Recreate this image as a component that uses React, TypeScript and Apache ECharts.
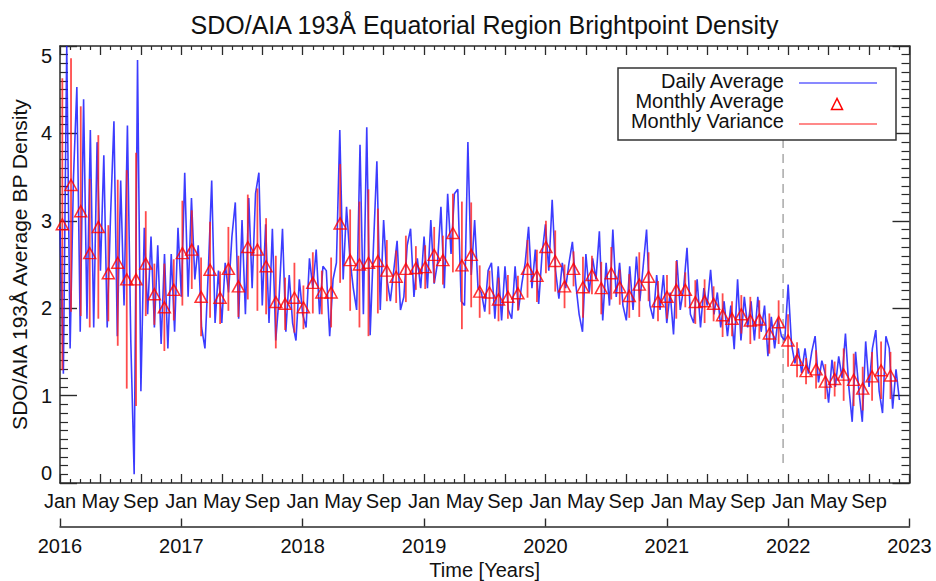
import React, { useEffect, useRef } from "react";
import * as echarts from "echarts";

// ---------------- data ----------------
// Daily average BP density, sampled every 1/3 month starting Jan 2016
const DAILY_STEP_MONTHS = 1 / 3;
const DAILY_VALUES = [
  2.93, 1.25, 5.0, 1.54, 3.5, 4.53, 1.73, 4.39, 1.88, 4.04,
  1.78, 3.9, 2.43, 3.75, 1.78, 3.06, 4.14, 1.68, 3.46, 2.03,
  4.09, 1.63, 0.1, 4.84, 1.05, 2.92, 1.93, 2.82, 1.78, 2.72,
  1.59, 2.62, 1.54, 2.62, 1.73, 2.92, 2.13, 3.55, 2.13, 3.26,
  2.33, 2.72, 1.78, 1.54, 2.43, 3.46, 1.83, 2.43, 1.83, 2.52,
  2.18, 2.82, 3.21, 1.88, 3.01, 1.93, 3.26, 2.23, 3.31, 3.55,
  2.03, 2.96, 1.83, 2.91, 1.63, 2.13, 2.91, 1.73, 2.38, 1.83,
  1.63, 2.33, 1.93, 1.78, 2.57, 2.23, 2.67, 1.93, 2.48, 2.43,
  1.68, 2.33, 2.52, 4.04, 2.33, 3.16, 2.57, 2.23, 1.98, 3.87,
  1.93, 4.07, 1.69, 2.72, 3.68, 1.98, 3.01, 2.33, 2.08, 2.43,
  2.77, 1.98, 2.13, 2.72, 2.91, 2.13, 2.57, 2.23, 2.82, 2.23,
  3.01, 2.28, 2.52, 3.16, 2.23, 3.31, 2.62, 3.31, 3.36, 2.08,
  2.03, 3.9, 2.38, 3.01, 2.23, 2.18, 1.96, 2.43, 2.52, 1.88,
  2.48, 1.86, 2.48, 1.98, 1.88, 2.48, 1.98, 2.28, 2.52, 2.93,
  2.23, 2.67, 2.05, 2.62, 2.96, 2.43, 3.24, 2.43, 2.11, 2.52,
  2.23, 2.52, 2.76, 2.28, 1.93, 1.73, 2.62, 2.18, 2.57, 2.33,
  2.88, 1.86, 2.52, 2.03, 2.9, 2.13, 2.52, 2.03, 1.86, 2.48,
  1.98, 2.59, 2.08, 2.48, 2.9, 2.03, 1.88, 2.38, 1.98, 2.38,
  1.83, 2.18, 1.7, 2.55, 1.98, 2.23, 2.69, 1.93, 1.83, 2.33,
  1.78, 2.23, 2.03, 2.44, 1.93, 2.18, 1.78, 2.08, 1.68, 2.03,
  1.53, 2.33, 1.63, 2.13, 1.78, 2.08, 1.63, 2.13, 1.73, 2.03,
  1.45, 1.9, 1.54, 1.88, 1.68, 1.63, 2.27, 1.59, 1.37, 1.54,
  1.26, 1.54, 1.25, 1.5, 1.68, 1.15, 1.4, 1.25, 0.92, 1.41,
  1.1, 1.45, 1.2, 1.71, 1.1, 0.7, 1.5, 1.05, 0.7, 1.62,
  1.1, 1.54, 1.75, 1.05, 0.8, 1.68, 1.54, 0.85, 1.3, 0.95,
];

// Monthly (rotation) averages: time in months since Jan 2016
const AVG_TIME_MONTHS = [
  0.23, 1.09, 2.05, 2.94, 3.79, 4.78, 5.71, 6.6, 7.52, 8.48,
  9.33, 10.32, 11.25, 12.1, 13.03, 13.95, 14.84, 15.83, 16.65, 17.64,
  18.57, 19.52, 20.38, 21.34, 22.26, 23.18, 24.07, 25.0, 25.89, 26.81,
  27.7, 28.69, 29.61, 30.5, 31.43, 32.32, 33.24, 34.2, 35.19, 36.11,
  37.0, 37.86, 38.85, 39.74, 40.66, 41.5, 42.47, 43.36, 44.29, 45.28,
  46.23, 47.16, 48.05, 48.97, 49.89, 50.78, 51.71, 52.6, 53.52, 54.51,
  55.35, 56.29, 57.28, 58.2, 59.13, 60.02, 60.94, 61.83, 62.82, 63.74,
  64.63, 65.52, 66.45, 67.37, 68.26, 69.15, 70.14, 71.06, 71.99, 72.88,
  73.77, 74.76, 75.68, 76.6, 77.49, 78.48, 79.37, 80.3, 81.19, 82.12,
];
const AVG_VALUES = [
  2.96, 3.41, 3.11, 2.63, 2.93, 2.4, 2.52, 2.33, 2.33, 2.51,
  2.16, 2.01, 2.21, 2.63, 2.67, 2.13, 2.44, 2.12, 2.45, 2.25,
  2.7, 2.67, 2.48, 2.07, 2.05, 2.12, 2.01, 2.29, 2.18, 2.18,
  2.97, 2.55, 2.5, 2.52, 2.54, 2.43, 2.36, 2.45, 2.46, 2.47,
  2.61, 2.55, 2.86, 2.49, 2.61, 2.19, 2.18, 2.1, 2.13, 2.17,
  2.45, 2.37, 2.7, 2.54, 2.25, 2.45, 2.24, 2.38, 2.23, 2.4,
  2.24, 2.14, 2.27, 2.36, 2.08, 2.13, 2.21, 2.21, 2.07, 2.08,
  2.05, 1.92, 1.88, 1.93, 1.86, 1.87, 1.71, 1.84, 1.63, 1.41,
  1.28, 1.3, 1.16, 1.19, 1.24, 1.18, 1.08, 1.22, 1.29, 1.23,
];
// half-length of the monthly variance bars
const VARIANCE_SIGMA = [
  1.67, 1.45, 1.2, 0.85, 1.05, 0.55, 0.95, 1.25, 1.45, 0.6,
  0.35, 0.5, 0.35, 0.6, 0.45, 0.45, 0.55, 0.3, 0.48, 0.35,
  0.6, 0.7, 0.55, 0.53, 0.3, 0.4, 0.25, 0.35, 0.25, 0.4,
  0.68, 0.58, 0.72, 0.84, 0.6, 0.35, 0.3, 0.38, 0.25, 0.25,
  0.32, 0.28, 0.45, 0.73, 0.6, 0.3, 0.25, 0.25, 0.25, 0.2,
  0.33, 0.3, 0.3, 0.35, 0.25, 0.2, 0.35, 0.22, 0.3, 0.3,
  0.2, 0.25, 0.37, 0.28, 0.23, 0.25, 0.33, 0.2, 0.25, 0.25,
  0.2, 0.25, 0.2, 0.22, 0.27, 0.22, 0.23, 0.25, 0.3, 0.2,
  0.15, 0.22, 0.2, 0.2, 0.3, 0.3, 0.25, 0.28, 0.33, 0.27,
];

const MONTH_LABELS = ["Jan", "May", "Sep"];
const YEAR_START = 2016;
const TOTAL_MONTHS = 84;
const CUTOFF_MONTH = 71.5;
const CUTOFF_RANGE = [0.23, 4.6];

const TITLE = "SDO/AIA 193Å Equatorial Region Brightpoint Density";
const Y_NAME = "SDO/AIA 193Å Average BP Density";
const X_NAME = "Time [Years]";
const LEGEND_ITEMS = ["Daily Average", "Monthly Average", "Monthly Variance"];

const FONT = "'Liberation Sans', Arial, Helvetica, sans-serif";
const AXIS_COLOR = "#2a2a2a";
const TEXT_COLOR = "#111";

export default function App() {
  const ref = useRef<HTMLDivElement>(null);

  useEffect(() => {
    if (!ref.current) return;
    const chart = echarts.init(ref.current, undefined, { renderer: "svg" });

    const dailyData = DAILY_VALUES.map((v, i) => [i * DAILY_STEP_MONTHS, v]);
    const avgData = AVG_VALUES.map((v, i) => [AVG_TIME_MONTHS[i], v]);
    const varData = AVG_VALUES.map((v, i) => [AVG_TIME_MONTHS[i], v, VARIANCE_SIGMA[i]]);

    const axisLineStyle = { color: AXIS_COLOR, width: 1.5 };
    const labelStyle = { fontSize: 20, color: TEXT_COLOR, fontFamily: FONT };

    const monthAxisBase = {
      type: "value" as const,
      min: 0,
      max: TOTAL_MONTHS,
      interval: 4,
      axisLine: { show: true, onZero: false, lineStyle: axisLineStyle },
      axisTick: { show: true, inside: true, length: 9, lineStyle: { color: AXIS_COLOR, width: 1.3 } },
      minorTick: { show: true, splitNumber: 4, length: 4, lineStyle: { color: AXIS_COLOR, width: 1.2 } },
      splitLine: { show: false },
      minorSplitLine: { show: false },
    };

    const yAxisBase = {
      type: "value" as const,
      min: 0,
      max: 5,
      interval: 1,
      axisLine: { show: true, onZero: false, lineStyle: axisLineStyle },
      axisTick: { show: true, inside: true, length: 17, lineStyle: { color: AXIS_COLOR, width: 1.4 } },
      minorTick: { show: true, splitNumber: 10, length: 8, lineStyle: { color: AXIS_COLOR, width: 1.2 } },
      splitLine: { show: false },
      minorSplitLine: { show: false },
    };

    const option: any = {
      animation: false,
      backgroundColor: "#ffffff",
      title: {
        text: TITLE,
        left: 484.5,
        top: 12,
        padding: 0,
        textAlign: "center",
        textStyle: { fontSize: 25, fontWeight: "normal", color: TEXT_COLOR, fontFamily: FONT },
      },
      grid: { left: 60, right: 26.5, top: 46, bottom: 98, containLabel: false, outerBoundsMode: "none" },
      xAxis: [
        {
          ...monthAxisBase,
          position: "bottom",
          axisLabel: {
            ...labelStyle,
            margin: 8,
            formatter: (v: number) =>
              v >= TOTAL_MONTHS ? "" : MONTH_LABELS[Math.round(v / 4) % 3],
          },
        },
        {
          ...monthAxisBase,
          position: "top",
          axisLabel: { show: false },
        },
        {
          type: "value",
          min: 0,
          max: TOTAL_MONTHS,
          interval: 12,
          position: "bottom",
          offset: 43.5,
          axisLine: { show: true, onZero: false, lineStyle: axisLineStyle },
          axisTick: { show: true, inside: true, length: 8, lineStyle: { color: AXIS_COLOR, width: 1.4 } },
          splitLine: { show: false },
          axisLabel: {
            ...labelStyle,
            margin: 9,
            formatter: (v: number) => String(YEAR_START + Math.round(v / 12)),
          },
          name: X_NAME,
          nameLocation: "middle",
          nameGap: 30,
          nameTextStyle: { ...labelStyle },
        },
      ],
      yAxis: [
        {
          ...yAxisBase,
          position: "left",
          axisLabel: {
            ...labelStyle,
            margin: 8,
            verticalAlignMaxLabel: "top",
            verticalAlignMinLabel: "bottom",
          },
          name: Y_NAME,
          nameLocation: "middle",
          nameRotate: 90,
          nameGap: 30,
          nameTextStyle: { fontSize: 21, color: TEXT_COLOR, fontFamily: FONT },
        },
        {
          ...yAxisBase,
          position: "right",
          axisLabel: { show: false },
        },
      ],
      series: [
        {
          name: "Cutoff",
          type: "line",
          xAxisIndex: 0,
          yAxisIndex: 0,
          data: [
            [CUTOFF_MONTH, CUTOFF_RANGE[0]],
            [CUTOFF_MONTH, CUTOFF_RANGE[1]],
          ],
          symbol: "none",
          silent: true,
          lineStyle: { color: "#9a9a9a", width: 1.3, type: [9, 6] },
          z: 1,
        },
        {
          name: LEGEND_ITEMS[0],
          type: "line",
          xAxisIndex: 0,
          yAxisIndex: 0,
          data: dailyData,
          symbol: "none",
          lineStyle: { color: "#1a1aff", width: 1.6, opacity: 0.85 },
          z: 2,
        },
        {
          name: LEGEND_ITEMS[2],
          type: "custom",
          xAxisIndex: 0,
          yAxisIndex: 0,
          data: varData,
          encode: { x: 0, y: 1 },
          renderItem: (_params: any, api: any) => {
            const x = api.value(0);
            const m = api.value(1);
            const s = api.value(2);
            const p1 = api.coord([x, m + s]);
            const p2 = api.coord([x, m - s]);
            return {
              type: "line",
              shape: { x1: p1[0], y1: p1[1], x2: p2[0], y2: p2[1] },
              style: { stroke: "rgba(255,30,30,0.8)", lineWidth: 1.8 },
            };
          },
          z: 3,
        },
        {
          name: LEGEND_ITEMS[1],
          type: "scatter",
          xAxisIndex: 0,
          yAxisIndex: 0,
          data: avgData,
          symbol: "triangle",
          symbolSize: [12, 11],
          itemStyle: { color: "rgba(255,255,255,0)", borderColor: "#ff0000", borderWidth: 1.5 },
          z: 4,
        },
      ],
      graphic: [
        {
          type: "rect",
          z: 100,
          shape: { x: 618, y: 68, width: 278, height: 72 },
          style: { fill: "#ffffff", stroke: "#333", lineWidth: 1.5 },
        },
        {
          type: "text",
          z: 101,
          x: 784,
          y: 81,
          style: { text: LEGEND_ITEMS[0], align: "right", verticalAlign: "middle", fontSize: 20, fontFamily: FONT, fill: TEXT_COLOR },
        },
        {
          type: "text",
          z: 101,
          x: 784,
          y: 101,
          style: { text: LEGEND_ITEMS[1], align: "right", verticalAlign: "middle", fontSize: 20, fontFamily: FONT, fill: TEXT_COLOR },
        },
        {
          type: "text",
          z: 101,
          x: 784,
          y: 121,
          style: { text: LEGEND_ITEMS[2], align: "right", verticalAlign: "middle", fontSize: 20, fontFamily: FONT, fill: TEXT_COLOR },
        },
        {
          type: "line",
          z: 101,
          shape: { x1: 799, y1: 83, x2: 877, y2: 83 },
          style: { stroke: "rgba(80,80,255,0.9)", lineWidth: 1.5 },
        },
        {
          type: "polygon",
          z: 101,
          shape: { points: [[837, 98.5], [831.5, 109.5], [842.5, 109.5]] },
          style: { fill: "rgba(255,255,255,0)", stroke: "#ff0000", lineWidth: 1.5 },
        },
        {
          type: "line",
          z: 101,
          shape: { x1: 799, y1: 124, x2: 877, y2: 124 },
          style: { stroke: "rgba(255,80,80,0.9)", lineWidth: 1.5 },
        },
      ],
    };

    chart.setOption(option);
    return () => chart.dispose();
  }, []);

  return (
    <div
      ref={ref}
      style={{ position: "fixed", left: 0, top: 0, width: 936, height: 581, background: "#fff" }}
    />
  );
}
